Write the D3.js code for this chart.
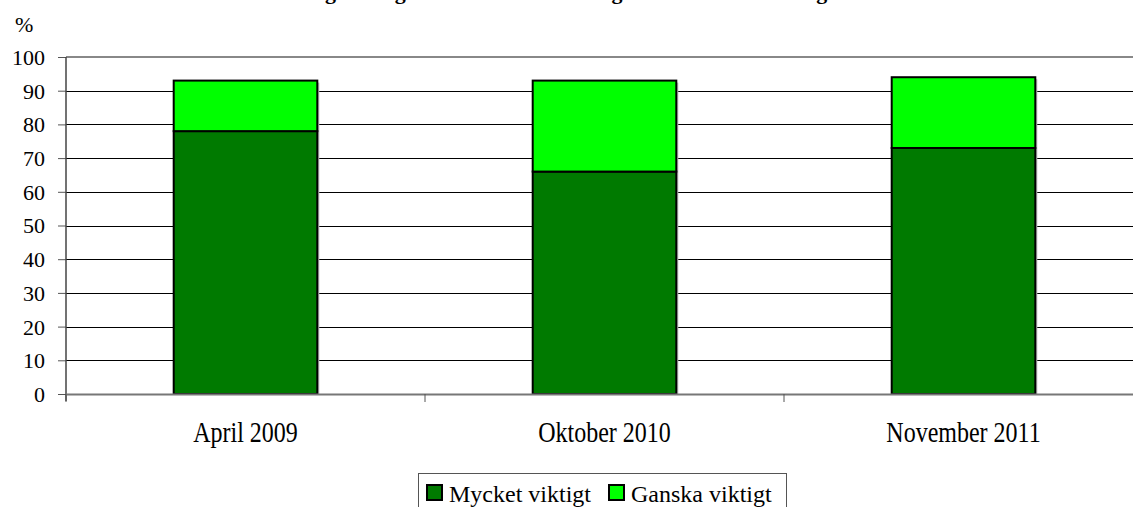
<!DOCTYPE html>
<html lang="sv">
<head>
    <meta charset="UTF-8">
    <title>Mycket / ganska viktigt</title>
    <script src="https://d3js.org/d3.v7.min.js"></script>
    <style>
        body { margin: 0; padding: 0; background: #fff; overflow: hidden; }
    </style>
</head>
<body>
    <div id="chart"></div>

    <script>
        // data
        const categories = ["April 2009", "Oktober 2010", "November 2011"];
        const seriesNames = ["Mycket viktigt", "Ganska viktigt"];
        const mycketViktigt = [78, 66, 73];
        const ganskaViktigt = [15, 27, 21];
        const yTicks = [0, 10, 20, 30, 40, 50, 60, 70, 80, 90, 100];
        const colors = ["#007a00", "#00ff00"];

        const FONT = "'Liberation Serif', 'Times New Roman', serif";

        const width = 1133, height = 507;
        const margin = { top: 57, left: 66, bottom: 113 };
        const plotRight = 1143; // plot runs past the right edge in the original

        const svg = d3.select("#chart").append("svg")
            .attr("width", width)
            .attr("height", height)
            .attr("font-family", FONT);

        // title is cut off at the top, only the descenders show
        const title = svg.append("text")
            .attr("y", -1)
            .style("font-family", FONT)
            .style("font-size", "22px")
            .style("font-weight", "bold")
            .text("Andel som anser att det är viktigt med god kontroll över den egna ekonomin i vardagen");
        // line up the first "g" with where it sits in the original
        const firstG = title.text().indexOf("g");
        const lead = title.node().getSubStringLength(0, firstG);
        title.attr("x", 330 - 5 - lead);

        const x = d3.scaleBand()
            .domain(categories)
            .range([margin.left, plotRight])
            .paddingInner(0.6)
            .paddingOuter(0.3);

        const y = d3.scaleLinear()
            .domain([0, 100])
            .range([height - margin.bottom, margin.top]);

        // gridlines
        svg.append("g")
            .selectAll("line")
            .data(yTicks.filter(d => d > 0 && d < 100))
            .join("line")
            .attr("x1", margin.left)
            .attr("x2", width)
            .attr("y1", d => Math.round(y(d)) + 0.5)
            .attr("y2", d => Math.round(y(d)) + 0.5)
            .attr("stroke", "#000")
            .attr("stroke-width", 1);

        // top border of plot area
        svg.append("line")
            .attr("x1", margin.left).attr("x2", width)
            .attr("y1", y(100)).attr("y2", y(100))
            .attr("stroke", "#888").attr("stroke-width", 2);

        // y axis
        const yAxis = d3.axisLeft(y)
            .tickValues(yTicks)
            .tickSize(8)
            .tickPadding(13);

        const gy = svg.append("g")
            .attr("transform", `translate(${margin.left},0)`)
            .call(yAxis)
            .attr("font-family", FONT);
        gy.select(".domain").remove();
        gy.selectAll(".tick line").attr("stroke", "#555").attr("stroke-width", 1);
        gy.selectAll(".tick text")
            .style("font-family", FONT)
            .style("font-size", "22px")
            .attr("dy", "0.34em");

        svg.append("line")
            .attr("x1", margin.left).attr("x2", margin.left)
            .attr("y1", y(100)).attr("y2", y(0) + 7)
            .attr("stroke", "#444").attr("stroke-width", 1.5);

        svg.append("text")
            .attr("x", 15)
            .attr("y", 32)
            .style("font-family", FONT)
            .style("font-size", "22px")
            .text("%");

        // stacked bars
        const table = categories.map((c, i) => ({
            cat: c,
            "Mycket viktigt": mycketViktigt[i],
            "Ganska viktigt": ganskaViktigt[i]
        }));
        const stacked = d3.stack().keys(seriesNames)(table);

        // faint shadow on the right side of bars
        svg.append("g")
            .selectAll("rect")
            .data(table)
            .join("rect")
            .attr("x", d => x(d.cat) + 2)
            .attr("y", d => y(d["Mycket viktigt"] + d["Ganska viktigt"]) + 2)
            .attr("width", x.bandwidth())
            .attr("height", d => y(0) - y(d["Mycket viktigt"] + d["Ganska viktigt"]) - 2)
            .attr("fill", "#bbb");

        svg.append("g")
            .selectAll("g")
            .data(stacked)
            .join("g")
            .attr("fill", (d, i) => colors[i])
            .selectAll("rect")
            .data(d => d)
            .join("rect")
            .attr("x", d => x(d.data.cat))
            .attr("y", d => y(d[1]))
            .attr("width", x.bandwidth())
            .attr("height", d => y(d[0]) - y(d[1]))
            .attr("stroke", "#000")
            .attr("stroke-width", 2);

        // x axis
        svg.append("line")
            .attr("x1", margin.left).attr("x2", width)
            .attr("y1", y(0) + 0.5).attr("y2", y(0) + 0.5)
            .attr("stroke", "#777").attr("stroke-width", 2);

        const step = x.step();
        const boundaries = d3.range(categories.length + 1)
            .map(i => margin.left + i * step);
        svg.append("g")
            .selectAll("line")
            .data(boundaries)
            .join("line")
            .attr("x1", d => d).attr("x2", d => d)
            .attr("y1", y(0)).attr("y2", y(0) + 8)
            .attr("stroke", "#555");

        // category labels look a bit stretched vertically in the original
        svg.append("g")
            .selectAll("text")
            .data(categories)
            .join("text")
            .attr("transform", d => `translate(${x(d) + x.bandwidth() / 2},442) scale(1,1.25)`)
            .attr("text-anchor", "middle")
            .style("font-family", FONT)
            .style("font-size", "24px")
            .text(d => d);

        // legend
        const legend = svg.append("g").attr("transform", "translate(418,473)");
        legend.append("rect")
            .attr("x", 0.5).attr("y", 0.5)
            .attr("width", 368).attr("height", 50)
            .attr("fill", "#fff")
            .attr("stroke", "#555");

        const items = [{ x: 9, label: seriesNames[0] }, { x: 191, label: seriesNames[1] }];
        items.forEach((it, i) => {
            legend.append("rect")
                .attr("x", it.x).attr("y", 12)
                .attr("width", 15).attr("height", 15)
                .attr("fill", colors[i])
                .attr("stroke", "#000")
                .attr("stroke-width", 2);
            legend.append("text")
                .attr("x", it.x + 22)
                .attr("y", 29)
                .style("font-family", FONT)
                .style("font-size", "24px")
                .text(it.label);
        });
    </script>
</body>
</html>
